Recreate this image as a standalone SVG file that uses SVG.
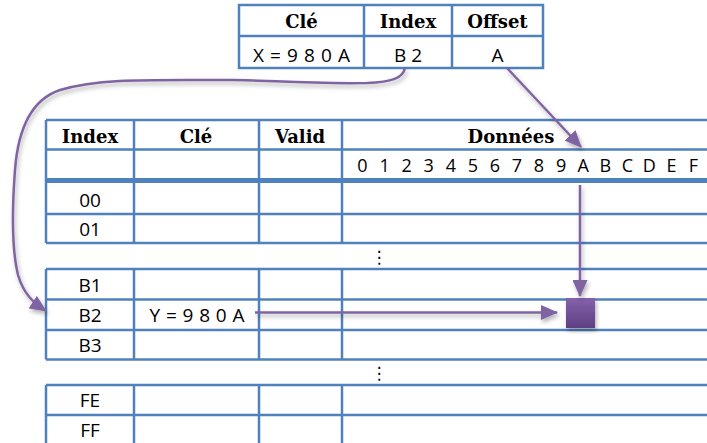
<svg xmlns="http://www.w3.org/2000/svg" width="707" height="443" viewBox="0 0 707 443">
<defs>
<style>
.grid{stroke:#4F81BD;stroke-width:2.5;fill:none}
.thick{stroke:#4F81BD;stroke-width:5;fill:none}
.hd{font-family:"DejaVu Serif",serif;font-weight:bold;font-size:18px;text-anchor:middle;fill:#000}
.tx{font-family:"Open Sans","Noto Sans",sans-serif;font-size:19px;text-anchor:middle;fill:#000}
.hx{font-family:"Open Sans","Noto Sans",sans-serif;font-size:18px;text-anchor:middle;fill:#000}
.dots{font-family:"DejaVu Sans",sans-serif;font-size:17px;text-anchor:middle;fill:#000}
.con{stroke:#8064A2;stroke-width:2.5;fill:none;marker-end:url(#ah)}
</style>
<marker id="ah" markerUnits="userSpaceOnUse" markerWidth="17" markerHeight="15" refX="16" refY="7.5" orient="auto">
<path d="M0,0 L17,7.5 L0,15 z" fill="#8064A2"/>
</marker>
<filter id="sh" x="-20%" y="-20%" width="140%" height="140%">
<feDropShadow dx="1.5" dy="3" stdDeviation="2" flood-color="#000" flood-opacity="0.3"/>
</filter>
<linearGradient id="sq" x1="0" y1="0" x2="0" y2="1">
<stop offset="0" stop-color="#8462AC"/>
<stop offset="1" stop-color="#5F3F84"/>
</linearGradient>
</defs>
<rect width="707" height="443" fill="#fff"/>

<g id="lookup">
<rect x="239" y="5" width="304" height="63" fill="#fff" class="grid"/>
<line class="grid" x1="239" y1="36" x2="543" y2="36"/>
<line class="grid" x1="364" y1="5" x2="364" y2="68"/>
<line class="grid" x1="452" y1="5" x2="452" y2="68"/>
<text class="hd" x="301.5" y="28">Clé</text>
<text class="hd" x="408" y="28">Index</text>
<text class="hd" x="497.5" y="28">Offset</text>
<text class="tx" x="301.5" y="62" textLength="97" lengthAdjust="spacing">X = 9 8 0 A</text>
<text class="tx" x="408" y="62">B 2</text>
<text class="tx" x="497.5" y="62">A</text>
</g>

<g id="cache">
<path class="grid" d="M46,120 H712 M46,149.5 H712 M46,214 H712 M46,243 H712 M46,120 V243 M134,120 V243 M259,120 V243 M342,120 V243"/>
<line class="thick" x1="46" y1="180.5" x2="712" y2="180.5"/>
<path class="grid" d="M46,269 H712 M46,299.5 H712 M46,330 H712 M46,359.5 H712 M46,269 V359.5 M134,269 V359.5 M259,269 V359.5 M342,269 V359.5"/>
<path class="grid" d="M46,385 H712 M46,415 H712 M46,385 V450 M134,385 V450 M259,385 V450 M342,385 V450"/>
<text class="hd" x="90" y="143">Index</text>
<text class="hd" x="196" y="143">Clé</text>
<text class="hd" x="300" y="143">Valid</text>
<text class="hd" x="511" y="143">Données</text>
<g class="hx">
<text x="362.5" y="172">0</text><text x="384.6" y="172">1</text><text x="406.6" y="172">2</text><text x="428.7" y="172">3</text>
<text x="450.8" y="172">4</text><text x="472.8" y="172">5</text><text x="494.9" y="172">6</text><text x="517" y="172">7</text>
<text x="539" y="172">8</text><text x="561.1" y="172">9</text><text x="583.2" y="172">A</text><text x="605.3" y="172">B</text>
<text x="627.3" y="172">C</text><text x="649.4" y="172">D</text><text x="671.5" y="172">E</text><text x="693.5" y="172">F</text>
</g>
<text class="tx" x="90" y="207">00</text>
<text class="tx" x="90" y="236">01</text>
<text class="tx" x="90" y="292">B1</text>
<text class="tx" x="90" y="322">B2</text>
<text class="tx" x="90" y="352">B3</text>
<text class="tx" x="90" y="407">FE</text>
<text class="tx" x="90" y="437">FF</text>
<text class="tx" x="197" y="322" textLength="95" lengthAdjust="spacing">Y = 9 8 0 A</text>
<text class="dots" x="379" y="263">⋮</text>
<text class="dots" x="379" y="379">⋮</text>
</g>

<g id="cell" filter="url(#sh)">
<rect x="566" y="298" width="29" height="30" fill="url(#sq)"/>
</g>

<g id="connectors" filter="url(#sh)">
<path class="con" d="M405,68 C403,78 392,82 367,83 C300,84 270,80 233,80 C150,80 100,78 60,90 C30,100 18,130 15,170 C12,210 12,250 18,275 C24,295 34,303 46,311"/>
<line class="con" x1="507" y1="68" x2="581" y2="147"/>
<line class="con" x1="580" y1="185" x2="580" y2="296"/>
<line class="con" x1="255" y1="312.5" x2="557" y2="312.5"/>
</g>
</svg>
